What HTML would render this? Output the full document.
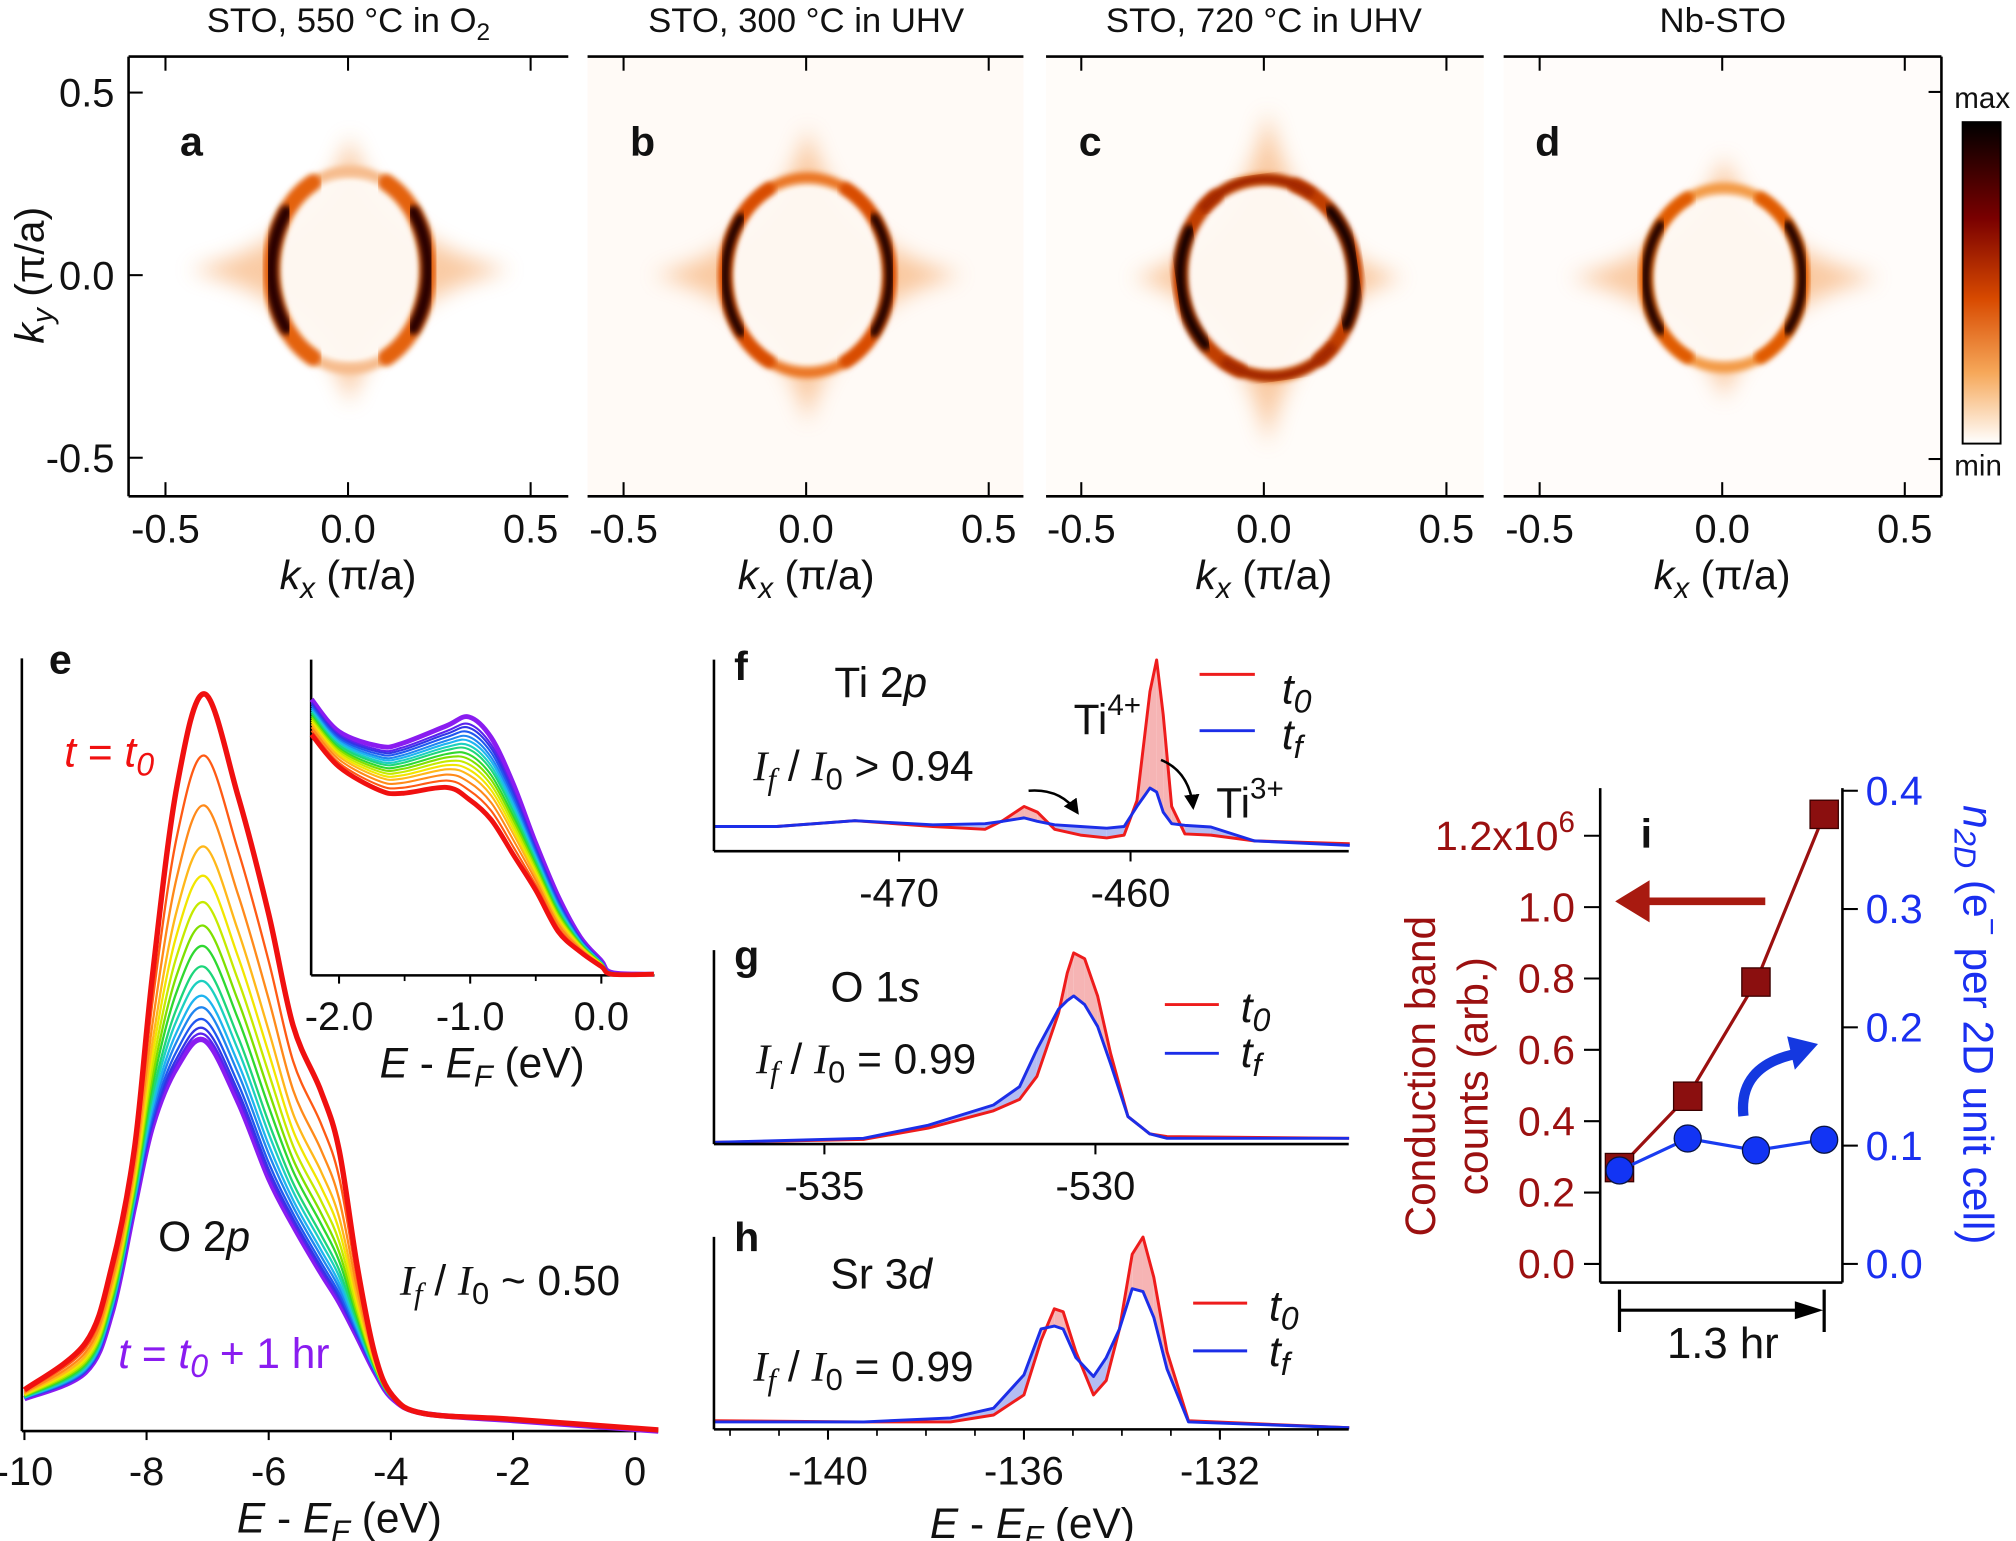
<!DOCTYPE html>
<html><head><meta charset="utf-8">
<style>
body{margin:0;background:#fff}
svg{display:block}
text{font-family:"Liberation Sans",sans-serif;fill:#111}
.ser{font-family:"Liberation Serif",serif;font-style:italic}
.it{font-style:italic}
</style></head>
<body>
<svg id="fig" width="2016" height="1541" viewBox="0 0 1568 1198.5" preserveAspectRatio="none" xmlns="http://www.w3.org/2000/svg">
<defs>
 <filter id="blur2" x="-20%" y="-20%" width="140%" height="140%"><feGaussianBlur stdDeviation="2.2"/></filter>
 <filter id="blur6" x="-20%" y="-20%" width="140%" height="140%"><feGaussianBlur stdDeviation="8"/></filter>
 <linearGradient id="cbar" x1="0" y1="0" x2="0" y2="1">
  <stop offset="0" stop-color="#000"/>
  <stop offset="0.3" stop-color="#7a0000"/>
  <stop offset="0.55" stop-color="#d84a00"/>
  <stop offset="0.78" stop-color="#f6a85a"/>
  <stop offset="1" stop-color="#fff"/>
 </linearGradient>
 <marker id="ahBlack" markerWidth="6" markerHeight="6" refX="5" refY="3" orient="auto" markerUnits="strokeWidth"><path d="M0,0 L6,3 L0,6 z" fill="#000"/></marker>
</defs>

<g font-size="27" text-anchor="middle">
 <text x="271" y="25">STO, 550 °C in O<tspan font-size="19" dy="6">2</tspan></text>
 <text x="627" y="25">STO, 300 °C in UHV</text>
 <text x="983" y="25">STO, 720 °C in UHV</text>
 <text x="1340" y="25">Nb-STO</text>
</g>
<g id="maps"></g>
<g font-size="31" text-anchor="end">
 <text x="89" y="83">0.5</text>
 <text x="89" y="225">0.0</text>
 <text x="89" y="367">-0.5</text>
</g>
<text font-size="32" text-anchor="middle" transform="translate(34,214) rotate(-90)"><tspan class="it">k</tspan><tspan class="it" font-size="23" dy="7">y</tspan><tspan dy="-7"> (π/a)</tspan></text>
<g font-size="32" font-weight="bold">
 <text x="140" y="121">a</text>
 <text x="490" y="121">b</text>
 <text x="839" y="121">c</text>
 <text x="1194" y="121">d</text>
</g>
<rect x="1526.5" y="95" width="29.5" height="250" fill="url(#cbar)" stroke="#000" stroke-width="1.5"/>
<text x="1520" y="84" font-size="23">max</text>
<text x="1520" y="370" font-size="23">min</text>

<g id="panelE"></g>
<text x="38" y="524" font-size="32" font-weight="bold">e</text>
<text x="50" y="596" font-size="33" style="fill:#f01010"><tspan class="it">t</tspan> = <tspan class="it">t</tspan><tspan class="it" font-size="25" dy="7">0</tspan></text>
<text x="123" y="973" font-size="33">O 2<tspan class="it">p</tspan></text>
<text x="311" y="1007" font-size="33"><tspan class="ser">I</tspan><tspan class="ser" font-size="24" dy="7">f</tspan><tspan dy="-7"> / </tspan><tspan class="ser">I</tspan><tspan font-size="24" dy="7">0</tspan><tspan dy="-7"> ~ 0.50</tspan></text>
<text x="92" y="1064" font-size="33" style="fill:#8a1cf0"><tspan class="it">t</tspan> = <tspan class="it">t</tspan><tspan class="it" font-size="25" dy="7">0</tspan><tspan dy="-7"> + 1 hr</tspan></text>
<text x="264" y="1192" font-size="33" text-anchor="middle"><tspan class="it">E</tspan> - <tspan class="it">E</tspan><tspan class="it" font-size="24" dy="7">F</tspan><tspan dy="-7"> (eV)</tspan></text>
<text x="375" y="838" font-size="33" text-anchor="middle"><tspan class="it">E</tspan> - <tspan class="it">E</tspan><tspan class="it" font-size="24" dy="7">F</tspan><tspan dy="-7"> (eV)</tspan></text>

<g id="panelXPS"></g>
<g font-size="33">
 <text x="571" y="529" font-weight="bold" font-size="32">f</text>
 <text x="649" y="542">Ti 2<tspan class="it">p</tspan></text>
 <text x="586" y="607"><tspan class="ser">I</tspan><tspan class="ser" font-size="24" dy="7">f</tspan><tspan dy="-7"> / </tspan><tspan class="ser">I</tspan><tspan font-size="24" dy="7">0</tspan><tspan dy="-7"> &gt; 0.94</tspan></text>
 <text x="835" y="571">Ti<tspan font-size="23" dy="-15">4+</tspan></text>
 <text x="946" y="636">Ti<tspan font-size="23" dy="-15">3+</tspan></text>
 <text x="571" y="754" font-weight="bold" font-size="32">g</text>
 <text x="646" y="779">O 1<tspan class="it">s</tspan></text>
 <text x="588" y="835"><tspan class="ser">I</tspan><tspan class="ser" font-size="24" dy="7">f</tspan><tspan dy="-7"> / </tspan><tspan class="ser">I</tspan><tspan font-size="24" dy="7">0</tspan><tspan dy="-7"> = 0.99</tspan></text>
 <text x="571" y="973" font-weight="bold" font-size="32">h</text>
 <text x="646" y="1002">Sr 3<tspan class="it">d</tspan></text>
 <text x="586" y="1074"><tspan class="ser">I</tspan><tspan class="ser" font-size="24" dy="7">f</tspan><tspan dy="-7"> / </tspan><tspan class="ser">I</tspan><tspan font-size="24" dy="7">0</tspan><tspan dy="-7"> = 0.99</tspan></text>
 <text x="803" y="1196" text-anchor="middle"><tspan class="it">E</tspan> - <tspan class="it">E</tspan><tspan class="it" font-size="24" dy="7">F</tspan><tspan dy="-7"> (eV)</tspan></text>
</g>

<g id="panelI"></g>
<text x="1276" y="659" font-size="32" font-weight="bold">i</text>
<text font-size="33" text-anchor="middle" style="fill:#9b1010" transform="translate(1116,837) rotate(-90)">Conduction band</text>
<text font-size="33" text-anchor="middle" style="fill:#9b1010" transform="translate(1157,837) rotate(-90)">counts (arb.)</text>
<text font-size="33" text-anchor="middle" style="fill:#1a2ff0" transform="translate(1527,797) rotate(90)"><tspan class="it" style="fill:#1a2ff0">n</tspan><tspan class="it" font-size="24" dy="7" style="fill:#1a2ff0">2D</tspan><tspan dy="-7" style="fill:#1a2ff0"> (e</tspan><tspan font-size="24" dy="-14" style="fill:#1a2ff0">−</tspan><tspan dy="14" style="fill:#1a2ff0"> per 2D unit cell)</tspan></text>
<text x="1340" y="1056" font-size="34" text-anchor="middle">1.3 hr</text>
</svg>

<script>
const NS='http://www.w3.org/2000/svg';
const svg=document.getElementById('fig');
function mk(tag,attrs,parent){const el=document.createElementNS(NS,tag);for(const k in attrs)el.setAttribute(k,attrs[k]);(parent||svg).appendChild(el);return el;}
function lin(pts){return 'M'+pts.map(p=>p[0].toFixed(1)+','+p[1].toFixed(1)).join(' L');}
function smooth(pts){let d='M'+pts[0][0].toFixed(1)+','+pts[0][1].toFixed(1);
 for(let i=0;i<pts.length-1;i++){const p0=pts[i-1]||pts[i],p1=pts[i],p2=pts[i+1],p3=pts[i+2]||p2;
  const c1=[p1[0]+(p2[0]-p0[0])/6,p1[1]+(p2[1]-p0[1])/6],c2=[p2[0]-(p3[0]-p1[0])/6,p2[1]-(p3[1]-p1[1])/6];
  d+=' C'+c1[0].toFixed(1)+','+c1[1].toFixed(1)+' '+c2[0].toFixed(1)+','+c2[1].toFixed(1)+' '+p2[0].toFixed(1)+','+p2[1].toFixed(1);}
 return d;}

/* ===== DATA ===== */
const eEnergy=[-10,-9,-8.57,-8.2,-7.9,-7.5,-7.05,-6.5,-6.0,-5.6,-5.15,-4.85,-4.55,-4.26,-3.97,-3.46,-2,0.38];
const eFirst=[70,150,280,480,780,1100,1255,1080,880,690,580,480,280,130,60,30,20,2];
const eLast=[55,100,200,380,520,620,665,560,430,350,270,220,160,100,55,30,18,0];
const ePeaks=[1150,1065,995,945,900,860,825,790,765,740,720,700,685,675];
const eTicks=[-10,-8,-6,-4,-2,0];
const insetEnergy=[-2.21,-2,-1.69,-1.52,-1.18,-1.01,-0.84,-0.67,-0.5,-0.33,-0.16,0,0.08,0.4];
const insetFirst=[410,355,315,310,320,300,265,205,145,75,40,15,2,2];
const insetLast=[470,415,390,395,425,440,405,325,225,135,65,25,5,2];
const insetTicks=[-2.0,-1.0,0.0];
const fEnergy=[-478.01,-475.29,-471.91,-468.54,-466.29,-465.53,-464.60,-464.03,-463.28,-462.16,-461.03,-460.28,-459.72,-459.16,-458.87,-458.59,-458.22,-457.65,-456.53,-454.65,-450.53];
const fT0=[43,43,53,43,38,53,78,68,38,28,23,28,88,278,333,238,78,30,28,18,13];
const fTf=[43,43,53,46,48,52,58,52,46,43,40,43,78,110,103,68,48,45,42,18,10];
const fTicks=[-470,-460];
const gEnergy=[-537.04,-534.28,-533.08,-531.88,-531.4,-531.08,-530.68,-530.52,-530.4,-530.2,-529.96,-529.72,-529.4,-529,-528.68,-525.32];
const gT0=[3,8,28,58,78,118,228,298,333,323,258,158,48,18,13,10];
const gTf=[3,10,33,68,100,165,235,250,258,243,205,140,48,18,10,10];
const gTicks=[-535,-530];
const hEnergy=[-142.33,-139.27,-137.5,-136.62,-136,-135.65,-135.38,-135.2,-134.94,-134.58,-134.32,-134.05,-133.79,-133.57,-133.35,-133.08,-132.64,-129.36];
const hT0=[15,13,13,25,60,155,210,205,135,60,85,175,305,335,265,135,15,3];
const hTf=[13,13,20,37,95,175,180,175,125,92,125,175,245,240,195,105,13,3];
const hTicks=[-140,-136,-132];
const iTime=[0,1,2,3];
const iCounts=[0.27,0.47,0.79,1.26];
const iDensity=[0.079,0.106,0.096,0.105];
const iLeftTicks=[0.0,0.2,0.4,0.6,0.8,1.0,1.2];
const iRightTicks=[0.0,0.1,0.2,0.3,0.4];
const mapTickVals=[-0.5,0.0,0.5];

/* ===== MAPS ===== */
const mapsG=document.getElementById('maps');
const panels=[
 {id:'a',x0:100,x1:442,c0:270.7,cx:272,cy:210,rx:61,ry:77,ring:'#f6bb8c',orange:'#e4620a',dark:'#2a0200',sh:125,sv:105,rot:0,bg:'#ffffff',dw:10},
 {id:'b',x0:457,x1:796,c0:627,cx:628,cy:214,rx:64,ry:76,ring:'#ea7420',orange:'#d84c00',dark:'#1c0000',sh:120,sv:115,rot:0,bg:'#fffaf6',dw:7},
 {id:'c',x0:813.6,x1:1154,c0:983,cx:986,cy:216,rx:68,ry:77,ring:'#d85a06',orange:'#c03c00',dark:'#140000',sh:105,sv:130,rot:-8,bg:'#fffcf9',dw:8},
 {id:'d',x0:1169.5,x1:1510,c0:1339.5,cx:1341,cy:216,rx:61,ry:70,ring:'#f39a44',orange:'#e05a00',dark:'#1a0000',sh:120,sv:95,rot:0,bg:'#fffcfa',dw:7}
];
const kScale=284, yTop=44, yBot=386, yMid=214;
panels.forEach(p=>{
 const g=mk('g',{},mapsG);
 
 
 const bg=mk('rect',{x:p.x0,y:yTop,width:p.x1-p.x0,height:yBot-yTop,fill:p.bg},g);
 
 
 const cx=p.cx,cy=p.cy;
 const spike=mk('path',{d:`M${cx-p.sh},${cy} Q${cx-25},${cy-22} ${cx},${cy-p.sv} Q${cx+25},${cy-22} ${cx+p.sh},${cy} Q${cx+25},${cy+22} ${cx},${cy+p.sv} Q${cx-25},${cy+22} ${cx-p.sh},${cy} z`,fill:'#f6a868',opacity:0.6,filter:'url(#blur6)'},g);
 
 
 const inner=mk('ellipse',{cx:cx,cy:cy,rx:p.rx-5,ry:p.ry-5,fill:'#fffaf5',opacity:0.95,filter:'url(#blur2)'},g);
 
 
 const ring=mk('ellipse',{cx:cx,cy:cy,rx:p.rx,ry:p.ry,fill:'none',stroke:p.ring,'stroke-width':8,filter:'url(#blur2)',transform:`rotate(${p.rot} ${cx} ${cy})`},g);
 
 
 [1,-1].forEach(s=>{
  [[62,p.orange,p.dw+3],[36,p.dark,p.dw]].forEach(([ang,col,w])=>{
   const pts=[];
   for(let a=-ang;a<=ang;a+=4){const r=a*Math.PI/180;pts.push([cx+s*p.rx*Math.cos(r),cy+p.ry*Math.sin(r)]);}
   const arc=mk('path',{d:lin(pts),fill:'none',stroke:col,'stroke-width':w,'stroke-linecap':'round',filter:'url(#blur2)',transform:`rotate(${p.rot} ${cx} ${cy})`},g);
   
   
  });
 });
 if(p.id==='c'){
  [-1,1].forEach(s=>{
   const pts=[];
   for(let a=-40;a<=40;a+=5){const r=(a+90*s)*Math.PI/180;pts.push([cx+p.rx*Math.cos(r),cy+p.ry*Math.sin(r)]);}
   const arc=mk('path',{d:lin(pts),fill:'none',stroke:'#a02800','stroke-width':7,filter:'url(#blur2)',transform:`rotate(${p.rot} ${cx} ${cy})`},g);
   
   
  });
 }
 const top=mk('line',{x1:p.x0,x2:p.x1,y1:yTop,y2:yTop,stroke:'#000','stroke-width':2},g);
 
 
 const bot=mk('line',{x1:p.x0,x2:p.x1,y1:yBot,y2:yBot,stroke:'#000','stroke-width':2},g);
 
 
 mapTickVals.forEach(v=>{
  const x=p.c0+v*kScale;
  const t1=mk('line',{x1:x,x2:x,y1:yTop,y2:yTop+11,stroke:'#000','stroke-width':1.6},g);
  
  
  const t2=mk('line',{x1:x,x2:x,y1:yBot,y2:yBot-11,stroke:'#000','stroke-width':1.6},g);
  
  
  const lb=mk('text',{x:x,y:422,'font-size':31,'text-anchor':'middle'},g);
  lb.textContent=v.toFixed(1);
  
  
 });
 const xt=mk('text',{x:p.c0,y:458,'font-size':32,'text-anchor':'middle'},g);
 xt.innerHTML='<tspan font-style="italic">k</tspan><tspan font-style="italic" font-size="23" dy="7">x</tspan><tspan dy="-7"> (π/a)</tspan>';
 
 
});
const la=mk('line',{x1:100,x2:100,y1:yTop,y2:yBot,stroke:'#000','stroke-width':2},mapsG);


const ra=mk('line',{x1:1510,x2:1510,y1:yTop,y2:yBot,stroke:'#000','stroke-width':2},mapsG);


mapTickVals.forEach(v=>{
 const y=yMid-v*kScale;
 const t=mk('line',{x1:100,x2:111,y1:y,y2:y,stroke:'#000','stroke-width':1.6},mapsG);
 
 
});
[71.5,357].forEach(y=>{
 const t=mk('line',{x1:1510,x2:1500,y1:y,y2:y,stroke:'#000','stroke-width':1.6},mapsG);
 
 
});

/* ===== PANEL E ===== */
const E=document.getElementById('panelE');
const ex=v=>494+v*47.5, ey=c=>1113-c*0.4568;
const ix=v=>467.7+v*102, iy=c=>758.6-c*0.4568;
const eColors=['#ff5a14','#ff8a1a','#ffb81a','#f2e600','#c6ea00','#80e000','#30d830','#1ed67a','#1cd0c0','#1eb4f0','#2086f0','#2058f0','#3236e6','#5a22ee'];
const eAxisL=mk('line',{x1:17,x2:17,y1:512,y2:1113,stroke:'#000','stroke-width':2},E);


const eAxisB=mk('line',{x1:17,x2:512,y1:1113,y2:1113,stroke:'#000','stroke-width':2},E);


eTicks.forEach(v=>{
 const t=mk('line',{x1:ex(v),x2:ex(v),y1:1113,y2:1120,stroke:'#000','stroke-width':1.6},E);
 
 
 const l=mk('text',{x:ex(v),y:1155,'font-size':31,'text-anchor':'middle'},E);
 l.textContent=String(v);
 
 
});
const rPk=Math.max(...eFirst), vPk=Math.max(...eLast);
function blendCurve(first,last,w){return first.map((f,k)=>last[k]+w*(f-last[k]));}
const mainCurves=[{vals:eFirst,col:'#f01010',w:4.2,name:'curve-t0'}];
ePeaks.forEach((pk,k)=>mainCurves.push({w:1.8,col:eColors[k],name:'curve-intermediate-'+(k+1),wt:(pk-vPk)/(rPk-vPk)}));
mainCurves.push({vals:eLast,col:'#8a1cf0',w:4.2,name:'curve-tf'});
mainCurves.slice().reverse().forEach(c=>{
 const vals=c.vals||blendCurve(eFirst,eLast,c.wt);
 const p=mk('path',{d:smooth(eEnergy.map((v,k)=>[ex(v),ey(vals[k])])),fill:'none',stroke:c.col,'stroke-width':c.w,'stroke-linejoin':'round'},E);
 
 
});
const inAxL=mk('line',{x1:242,x2:242,y1:513,y2:758.6,stroke:'#000','stroke-width':2},E);


const inAxB=mk('line',{x1:242,x2:509,y1:758.6,y2:758.6,stroke:'#000','stroke-width':2},E);


insetTicks.forEach(v=>{
 const t=mk('line',{x1:ix(v),x2:ix(v),y1:758.6,y2:765,stroke:'#000','stroke-width':1.6},E);
 
 
 const l=mk('text',{x:ix(v),y:801,'font-size':31,'text-anchor':'middle'},E);
 l.textContent=v.toFixed(1);
 
 
});
[-1.5,-0.5].forEach(v=>{
 const t=mk('line',{x1:ix(v),x2:ix(v),y1:758.6,y2:763,stroke:'#000','stroke-width':1.4},E);
 
 
});
mainCurves.slice().reverse().forEach(c=>{
 const vals=c.vals===eFirst?insetFirst:(c.vals===eLast?insetLast:blendCurve(insetFirst,insetLast,Math.pow(c.wt,0.6)));
 const p=mk('path',{d:smooth(insetEnergy.map((v,k)=>[ix(v),iy(vals[k])])),fill:'none',stroke:c.col,'stroke-width':c.w*0.9,'stroke-linejoin':'round'},E);
 
 
});

/* ===== PANELS F G H ===== */
const X=document.getElementById('panelXPS');
const specs=[
 {id:'f',en:fEnergy,r:fT0,b:fTf,ticks:fTicks,xm:v=>699.3+(v+470)*18.0,base:662,top:513,minor:[],leg:[933,976,524.5,568.3,997,547,582.6]},
 {id:'g',en:gEnergy,r:gT0,b:gTf,ticks:gTicks,xm:v=>852+(v+530)*42.16,base:889.8,top:739,minor:[],leg:[906,948,781.3,819.2,965,795,830]},
 {id:'h',en:hEnergy,r:hT0,b:hTf,ticks:hTicks,xm:v=>796.4+(v+136)*38.1,base:1111.7,top:962,minor:[-142,-141,-139,-138,-137,-135,-134,-133,-131,-130],leg:[928,970,1013.5,1050.6,987,1027,1062.5]}
];
specs.forEach(s=>{
 const g=mk('g',{},X);
 
 
 const ym=c=>s.base-c*0.4465;
 for(let k=0;k<s.en.length-1;k++){
  const d=(s.r[k]+s.r[k+1])-(s.b[k]+s.b[k+1]);
  const poly=mk('polygon',{points:[[s.xm(s.en[k]),ym(s.r[k])],[s.xm(s.en[k+1]),ym(s.r[k+1])],[s.xm(s.en[k+1]),ym(s.b[k+1])],[s.xm(s.en[k]),ym(s.b[k])]].map(p=>p.join(',')).join(' '),fill:d>0?'#f6b4b4':'#b4bcf2',stroke:'none'},g);
  
  
 }
 const rl=mk('path',{d:lin(s.en.map((v,k)=>[s.xm(v),ym(s.r[k])])),fill:'none',stroke:'#ee1c1c','stroke-width':2.3,'stroke-linejoin':'round'},g);
 
 
 const bl=mk('path',{d:lin(s.en.map((v,k)=>[s.xm(v),ym(s.b[k])])),fill:'none',stroke:'#1c2ee8','stroke-width':2.3,'stroke-linejoin':'round'},g);
 
 
 const al=mk('line',{x1:555.3,x2:555.3,y1:s.top,y2:s.base,stroke:'#000','stroke-width':2},g);
 
 
 const ab=mk('line',{x1:555.3,x2:1049,y1:s.base,y2:s.base,stroke:'#000','stroke-width':2},g);
 
 
 s.ticks.forEach(v=>{
  const t=mk('line',{x1:s.xm(v),x2:s.xm(v),y1:s.base,y2:s.base+8,stroke:'#000','stroke-width':1.6},g);
  
  
  const l=mk('text',{x:s.xm(v),y:s.base+43,'font-size':31,'text-anchor':'middle'},g);
  l.textContent=String(v);
  
  
 });
 s.minor.forEach(v=>{
  const t=mk('line',{x1:s.xm(v),x2:s.xm(v),y1:s.base,y2:s.base+5,stroke:'#000','stroke-width':1.3},g);
  
  
 });
 const L=s.leg;
 const lr=mk('line',{x1:L[0],x2:L[1],y1:L[2],y2:L[2],stroke:'#ee1c1c','stroke-width':2.3},g);
 
 
 const lb=mk('line',{x1:L[0],x2:L[1],y1:L[3],y2:L[3],stroke:'#1c2ee8','stroke-width':2.3},g);
 
 
 const t0=mk('text',{x:L[4],y:L[5],'font-size':33,'font-style':'italic'},g);
 t0.innerHTML='t<tspan font-size="25" dy="7">0</tspan>';
 
 
 const tf=mk('text',{x:L[4],y:L[6],'font-size':33,'font-style':'italic'},g);
 tf.innerHTML='t<tspan font-size="25" dy="7">f</tspan>';
 
 
});
const ar1=mk('path',{d:'M800,615 Q825,613 838,632',fill:'none',stroke:'#000','stroke-width':2,'marker-end':'url(#ahBlack)'},X);


const ar2=mk('path',{d:'M903,591 Q925,600 928,628',fill:'none',stroke:'#000','stroke-width':2,'marker-end':'url(#ahBlack)'},X);



/* ===== PANEL I ===== */
const I=document.getElementById('panelI');
const tx=t=>1259.6+t*53.07, yL=v=>983-v*277.5, yR=v=>983-v*920;
[['i-left-axis',1244.6,1244.6,613,997.5],['i-right-axis',1433,1433,613,997.5],['i-bottom-axis',1244.6,1433,997.5,997.5]].forEach(a=>{
 const l=mk('line',{x1:a[1],x2:a[2],y1:a[3],y2:a[4],stroke:'#000','stroke-width':2},I);
 
 
});
iLeftTicks.forEach(v=>{
 const t=mk('line',{x1:1232,x2:1244.6,y1:yL(v),y2:yL(v),stroke:'#000','stroke-width':1.6},I);
 
 
 const l=mk('text',{x:1225,y:yL(v)+11,'font-size':32,'text-anchor':'end',style:'fill:#9b1010'},I);
 if(v===1.2){l.innerHTML='1.2x10<tspan font-size="23" dy="-14">6</tspan>';}else{l.textContent=v.toFixed(1);}
 
 
});
iRightTicks.forEach(v=>{
 const t=mk('line',{x1:1433,x2:1445,y1:yR(v),y2:yR(v),stroke:'#000','stroke-width':1.6},I);
 
 
 const l=mk('text',{x:1451,y:yR(v)+11,'font-size':32,style:'fill:#1a2ff0'},I);
 l.textContent=v.toFixed(1);
 
 
});
const rLine=mk('path',{d:lin(iTime.map((t,k)=>[tx(t),yL(iCounts[k])])),fill:'none',stroke:'#9b1010','stroke-width':2.5},I);


iTime.forEach((t,k)=>{
 const s=mk('rect',{x:tx(t)-11,y:yL(iCounts[k])-11,width:22,height:22,fill:'#8b0f0f',stroke:'#3a0000','stroke-width':1},I);
 
 
});
const bLine=mk('path',{d:lin(iTime.map((t,k)=>[tx(t),yR(iDensity[k])])),fill:'none',stroke:'#1a3cf0','stroke-width':2.5},I);


iTime.forEach((t,k)=>{
 const c=mk('circle',{cx:tx(t),cy:yR(iDensity[k]),r:10.5,fill:'#1234f4',stroke:'#0a1440','stroke-width':1},I);
 
 
});
const redArrow=mk('path',{d:'M1373,701 L1277,701 M1262,701 L1280,690 L1280,712 z',fill:'#a81a10',stroke:'#a81a10','stroke-width':6},I);


const blueArrow=mk('path',{d:'M1356,868 Q1352,830 1395,820',fill:'none',stroke:'#1438e0','stroke-width':8},I);


const blueHead=mk('path',{d:'M1390,806 L1414,812 L1396,832 z',fill:'#1438e0'},I);


const br=mk('path',{d:'M1259.6,1003 L1259.6,1036 M1418.8,1003 L1418.8,1036 M1259.6,1019 L1400,1019',fill:'none',stroke:'#000','stroke-width':2.5},I);


const brh=mk('path',{d:'M1396,1012 L1418,1019 L1396,1026 z',fill:'#000'},I);


</script>
</body></html>
